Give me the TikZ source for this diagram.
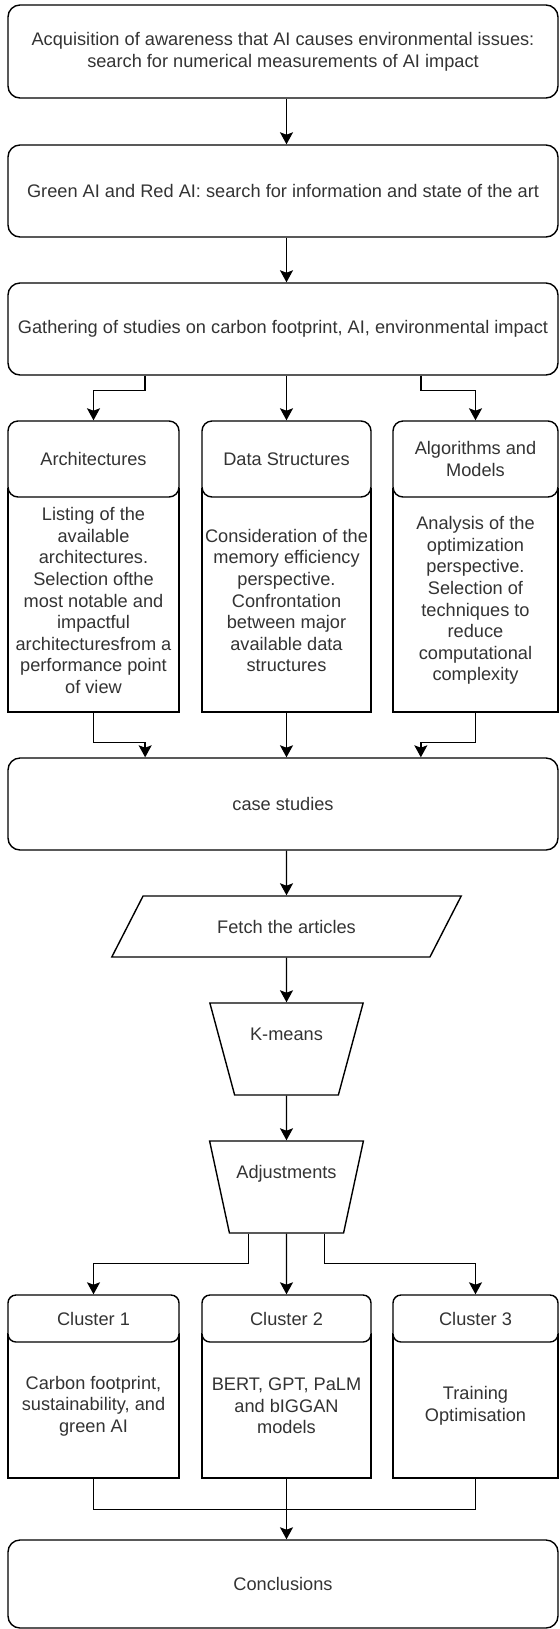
\documentclass[tikz,border=0pt]{standalone}
\usepackage{fontspec}
\setmainfont{Liberation Sans}
\usetikzlibrary{shapes.geometric,arrows.meta,calc}

\begin{document}
\begin{tikzpicture}[x=0.5pt, y=-0.5pt, line width=0.7pt,
    >={Stealth[length=6pt,width=6.5pt,inset=1.2pt]},
    every node/.style={font=\fontsize{9.1}{10.8}\selectfont, text=black!80, align=center, inner sep=0pt},
    wide/.style={draw, rounded corners=6pt, minimum width=275pt, minimum height=46pt},
    head/.style={draw, fill=white, rounded corners=5pt, minimum height=38pt},
    lane/.style={draw, fill=white, minimum height=111.5pt},
    chead/.style={draw, fill=white, rounded corners=4pt, minimum height=23.5pt},
    clane/.style={draw, fill=white, minimum height=72pt},
    para/.style={draw, trapezium, trapezium left angle=41.5, trapezium right angle=138.5,
        trapezium stretches=true, minimum width=175.5pt, minimum height=30.5pt},
    funnel/.style={draw, trapezium, shape border rotate=180, trapezium left angle=68.6,
        trapezium right angle=68.6, trapezium stretches=true, minimum width=77pt,
        minimum height=46pt, text height=6.6pt, text depth=15.6pt}]
            \useasboundingbox (0,0) rectangle (559,1629);

            % Nodes
            \node[wide, minimum height=46.5pt] (acq) at (283,51.5) {Acquisition of awareness that AI causes environmental issues:\\search for numerical measurements of AI impact};
            \node[wide] (green) at (283,191) {Green AI and Red AI: search for information and state of the art};
            \node[wide] (gather) at (283,329) {Gathering of studies on carbon footprint, AI, environmental impact};

            \node[lane, minimum width=85.5pt] (archbody) at (93.5,600.5) {Listing of the\\available\\architectures.\\Selection ofthe\\most notable and\\impactful\\architecturesfrom a\\performance point\\of view};
            \node[head, minimum width=85.5pt] (archhead) at (93.5,459) {Architectures};
            \node[lane, minimum width=84.5pt] (databody) at (286.5,600.5) {Consideration of the\\memory efficiency\\perspective.\\Confrontation\\between major\\available data\\structures};
            \node[head, minimum width=84.5pt] (datahead) at (286.5,459) {Data Structures};
            \node[lane, minimum width=82.5pt] (algbody) at (475.5,600.5) {Analysis of the\\optimization\\perspective.\\Selection of\\techniques to\\reduce\\computational\\complexity};
            \node[head, minimum width=82.5pt] (alghead) at (475.5,459) {Algorithms and\\Models};

            \node[wide] (cases) at (283,804) {case studies};
            \node[para] (fetch) at (286.5,926.5) {Fetch the articles};
            \node[funnel] (kmeans) at (286.5,1049) {K-means};
            \node[funnel] (adjust) at (286.5,1187) {Adjustments};

            \node[clane, minimum width=85.5pt] (c1body) at (93.5,1406) {Carbon footprint,\\sustainability, and\\green AI};
            \node[chead, minimum width=85.5pt] (c1head) at (93.5,1318.5) {Cluster 1};
            \node[clane, minimum width=84.5pt] (c2body) at (286.5,1406) {BERT, GPT, PaLM\\and bIGGAN\\models};
            \node[chead, minimum width=84.5pt] (c2head) at (286.5,1318.5) {Cluster 2};
            \node[clane, minimum width=82.5pt] (c3body) at (475.5,1406) {Training\\Optimisation};
            \node[chead, minimum width=82.5pt] (c3head) at (475.5,1318.5) {Cluster 3};

            \node[wide, minimum height=44pt] (concl) at (283,1584) {Conclusions};

            % Edges
            \foreach \a/\b in {acq/green, green/gather} {
                \draw[->] (\a.south -| datahead) -- (\b.north -| datahead);
            }
            \draw[->] ($(gather.south west)!.25!(gather.south east)$) -- ++(0,15) -| (archhead.north);
            \draw[->] (gather.south -| datahead) -- (datahead);
            \draw[->] ($(gather.south west)!.75!(gather.south east)$) -- ++(0,15) -| (alghead.north);

            \draw[->] (archbody.south) -- ++(0,30) -| ($(cases.north west)!.25!(cases.north east)$);
            \draw[->] (databody.south) -- (cases.north -| databody);
            \draw[->] (algbody.south) -- ++(0,30) -| ($(cases.north west)!.75!(cases.north east)$);

            \draw[->] (cases.south -| fetch) -- (fetch);
            \draw[->] (fetch) -- (kmeans);
            \draw[->] (kmeans) -- (adjust);

            \draw[->] ($(adjust.south)+(-38,0)$) -- ++(0,30) -| (c1head.north);
            \draw[->] (adjust.south) -- (c2head);
            \draw[->] ($(adjust.south)+(38,0)$) -- ++(0,30) -| (c3head.north);

            % merge
            \draw (c1body.south) -- ++(0,31) -| (c3body.south);
            \draw[->] (c2body.south) -- (concl.north -| c2body);
        \end{tikzpicture}
\end{document}
